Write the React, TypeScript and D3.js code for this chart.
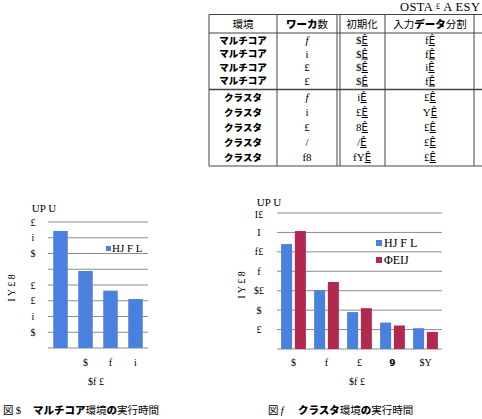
import React from "react";
import * as d3 from "d3";

// ---- data ----
const c1Categories = ["", "$", "f", "i"];
const c1Values = [7.43, 4.89, 3.64, 3.11];
const c1TickValues = [8, 7, 6, 5, 4, 3, 2, 1];
const c1TickLabels = ["£", "i", "$", "", "£", "£", "i", "$"];

const c2Categories = ["$", "f", "£", "9", "$Y"];
const c2Blue = [5.4, 3.03, 1.9, 1.36, 1.07];
const c2Red = [6.07, 3.45, 2.1, 1.21, 0.88];
const c2TickValues = [7, 6, 5, 4, 3, 2, 1];
const c2TickLabels = ["I£", "I", "f£", "f", "$£", "$", "£"];
const c2Series = ["HJ F L", "ΦEIJ"];

const tableHeaders = ["環境", "ワーカ数", "初期化", "入力データ分割"];
const tableEnv = ["マルチコア", "マルチコア", "マルチコア", "マルチコア", "クラスタ", "クラスタ", "クラスタ", "クラスタ", "クラスタ"];
const tableWorkers = ["f", "i", "£", "£", "f", "i", "£", "/", "f8"];
const tableInit = ["$", "$", "$", "$", "i", "£", "8", "/", "fY"];
const tableSplit = ["f", "f", "i", "f", "£", "Y", "£", "£", "£"];

const BLUE = "#4a80de";
const RED = "#b3284f";
const GRID = "#8c8c8c";
const SERIF = "'Liberation Serif', 'DejaVu Serif', serif";
const CJK = "'Noto Sans CJK JP', sans-serif";

function Chart1() {
  const x = d3.scaleBand<string>().domain(c1Categories.map((c, i) => i + ":" + c)).range([48, 148]).paddingInner(0.42).paddingOuter(0.21);
  const y = d3.scaleLinear().domain([0, 8]).range([348, 222]);
  return (
    <g>
      {[0, ...c1TickValues].map((v) => (
        <line key={v} x1={48} x2={148} y1={y(v)} y2={y(v)} stroke={GRID} strokeWidth={1} />
      ))}
      {c1TickValues.map((v, i) => (
        <text key={v} x={33} y={y(v)} dy="0.35em" textAnchor="middle" fontFamily={SERIF} fontSize={10}>{c1TickLabels[i]}</text>
      ))}
      {c1Values.map((v, i) => {
        const key = i + ":" + c1Categories[i];
        return <rect key={key} x={x(key)} width={x.bandwidth()} y={y(v)} height={y(0) - y(v)} fill={BLUE} />;
      })}
      {c1Categories.map((c, i) => {
        const key = i + ":" + c;
        return <text key={key} x={(x(key) as number) + x.bandwidth() / 2} y={366} textAnchor="middle" fontFamily={SERIF} fontSize={10}>{c}</text>;
      })}
      <text x={96} y={385} textAnchor="middle" fontFamily={SERIF} fontSize={10}>$f £</text>
      <text x={44} y={212} textAnchor="middle" fontFamily={SERIF} fontSize={11}>UP U</text>
      <text transform="translate(15,288) rotate(-90)" textAnchor="middle" fontFamily={SERIF} fontSize={10}>I Y £ 8</text>
      <rect x={106} y={246} width={5} height={5} fill={BLUE} />
      <text x={112} y={252} fontFamily={SERIF} fontSize={11}>{c2Series[0]}</text>
    </g>
  );
}

function Chart2() {
  const x0 = d3.scaleBand<string>().domain(c2Categories).range([277, 442]).padding(0);
  const x1 = d3.scaleBand<string>().domain(c2Series).range([0, x0.bandwidth()]).paddingInner(0.2).paddingOuter(0.3);
  const y = d3.scaleLinear().domain([0, 7]).range([349, 213]);
  const series = [c2Blue, c2Red];
  const colors = [BLUE, RED];
  return (
    <g>
      {[0, ...c2TickValues].map((v) => (
        <line key={v} x1={277} x2={442} y1={y(v)} y2={y(v)} stroke={GRID} strokeWidth={1} />
      ))}
      {c2TickValues.map((v, i) => (
        <text key={v} x={259} y={y(v) + (i === 0 ? 1 : 0)} dy="0.35em" textAnchor="middle" fontFamily={SERIF} fontSize={10}>{c2TickLabels[i]}</text>
      ))}
      {c2Categories.map((c, ci) => (
        <g key={c} transform={`translate(${x0(c)},0)`}>
          {series.map((s, si) => (
            <rect key={si} x={x1(c2Series[si])} width={x1.bandwidth()} y={y(s[ci])} height={y(0) - y(s[ci])} fill={colors[si]} />
          ))}
        </g>
      ))}
      {c2Categories.map((c) => (
        <text key={c} x={(x0(c) as number) + x0.bandwidth() / 2} y={366} textAnchor="middle"
          fontFamily={c === "9" ? "'DejaVu Sans', sans-serif" : SERIF} fontWeight={c === "9" ? 700 : 400} fontSize={c === "9" ? 9 : 10}>{c}</text>
      ))}
      <text x={357} y={385} textAnchor="middle" fontFamily={SERIF} fontSize={10}>$f £</text>
      <text x={269} y={206} textAnchor="middle" fontFamily={SERIF} fontSize={11}>UP U</text>
      <text transform="translate(245,285) rotate(-90)" textAnchor="middle" fontFamily={SERIF} fontSize={10}>I Y £ 8</text>
      {c2Series.map((s, i) => (
        <g key={s}>
          <rect x={376} y={240 + i * 17} width={6} height={6} fill={colors[i]} />
          <text x={384} y={247 + i * 17} fontFamily={SERIF} fontSize={12}>{s}</text>
        </g>
      ))}
    </g>
  );
}

function Table() {
  const colX = [209, 277, 337, 385, 474];
  const colC = [243, 307, 362, 430];
  const rowY = [40, 53.5, 67, 80.5, 97, 112, 127, 142, 157];
  const kata = (s: string, key: string | number) => (
    <tspan key={key} fontWeight={900}>{s}</tspan>
  );
  return (
    <g>
      <text x={400} y={11} fontFamily={SERIF} fontSize={12.5} letterSpacing={0.4}>OSTA <tspan fontSize={8} dy={-2}>£</tspan><tspan dy={2}>  A ESY</tspan></text>
      <line x1={209} x2={482} y1={14.5} y2={14.5} stroke="#444" />
      <line x1={209} x2={482} y1={33} y2={33} stroke="#444" />
      <line x1={209} x2={482} y1={89.5} y2={89.5} stroke="#444" strokeWidth={1.3} />
      <line x1={209} x2={482} y1={166} y2={166} stroke="#444" />
      {colX.map((cx, i) => (
        <line key={i} x1={cx} x2={cx} y1={14.5} y2={166} stroke="#444" />
      ))}
      <line x1={340} x2={340} y1={14.5} y2={166} stroke="#444" />
      <text x={colC[0]} y={28} textAnchor="middle" fontFamily={CJK} fontSize={10.5}>{tableHeaders[0]}</text>
      <text x={colC[1]} y={28} textAnchor="middle" fontFamily={CJK} fontSize={10.5}>{kata("ワーカ", 0)}数</text>
      <text x={colC[2]} y={28} textAnchor="middle" fontFamily={CJK} fontSize={10.5}>{tableHeaders[2]}</text>
      <text x={colC[3]} y={28} textAnchor="middle" fontFamily={CJK} fontSize={10.5}>入力{kata("データ", 0)}分割</text>
      {rowY.map((ry, i) => (
        <g key={i}>
          <text x={colC[0]} y={ry + 3.5} textAnchor="middle" fontFamily={CJK} fontSize={9.5} fontWeight={900}>{tableEnv[i]}</text>
          <text x={colC[1]} y={ry + 4} textAnchor="middle" fontFamily={SERIF} fontSize={11} fontStyle={tableWorkers[i] === "f" ? "italic" : "normal"}>{tableWorkers[i]}</text>
          <text x={colC[2]} y={ry + 4} textAnchor="middle" fontFamily={SERIF} fontSize={11}>{tableInit[i]}<tspan textDecoration="underline" fontFamily="'DejaVu Sans', sans-serif" fontSize={10}>Ê</tspan></text>
          <text x={colC[3]} y={ry + 4} textAnchor="middle" fontFamily={SERIF} fontSize={11}>{tableSplit[i]}<tspan textDecoration="underline" fontFamily="'DejaVu Sans', sans-serif" fontSize={10}>Ê</tspan></text>
        </g>
      ))}
    </g>
  );
}

function Captions() {
  return (
    <g fontFamily={CJK} fontSize={10.5}>
      <text x={3} y={414}>図 <tspan fontFamily={SERIF}>$</tspan>
        <tspan x={33} fontWeight={900}>マルチコア</tspan>環境<tspan fontWeight={900}>の</tspan>実行時間</text>
      <text x={268} y={414}>図 <tspan fontFamily={SERIF} fontStyle="italic">f</tspan>
        <tspan x={298} fontWeight={900}>クラスタ</tspan>環境<tspan fontWeight={900}>の</tspan>実行時間</text>
    </g>
  );
}

export default function App() {
  return (
    <svg width={482} height={419} style={{ position: "absolute", left: 0, top: 0, background: "#fff" }}>
      <rect width={482} height={419} fill="#fff" />
      <Table />
      <Chart1 />
      <Chart2 />
      <Captions />
    </svg>
  );
}
